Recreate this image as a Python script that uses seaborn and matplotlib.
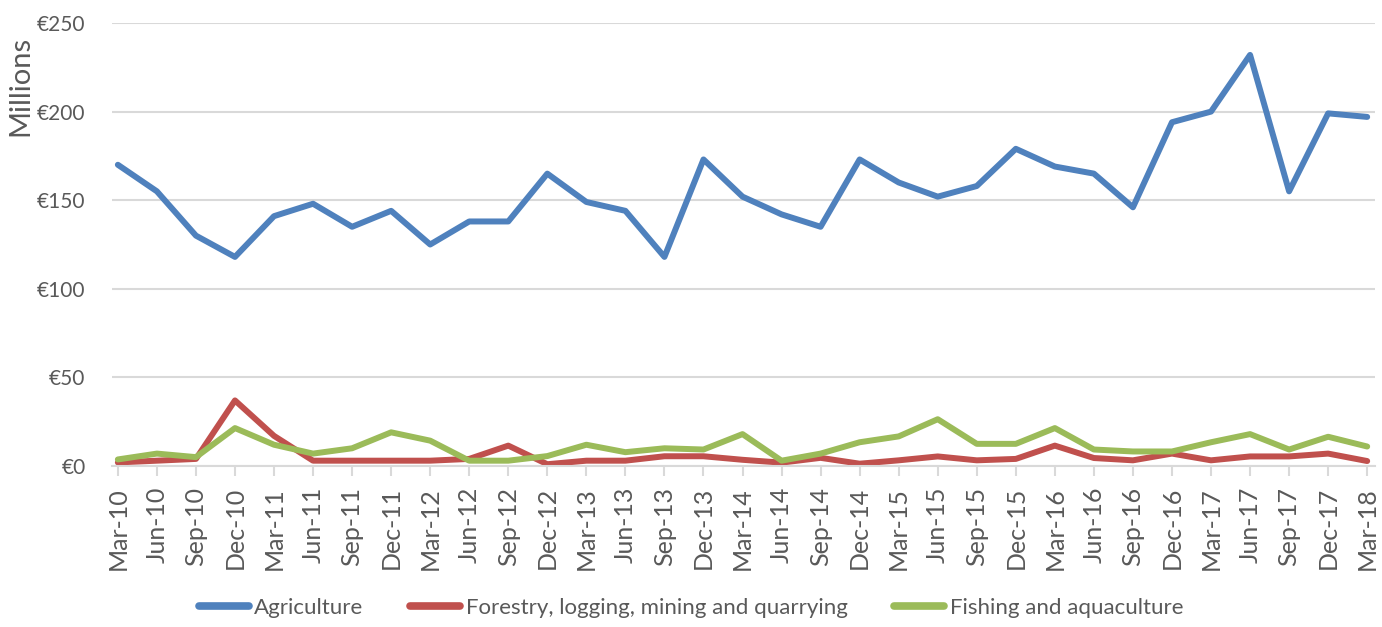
import matplotlib
matplotlib.use("Agg")
import matplotlib.pyplot as plt
import seaborn as sns
import pandas as pd
import numpy as np

quarters = ["Mar-10", "Jun-10", "Sep-10", "Dec-10", "Mar-11", "Jun-11", "Sep-11", "Dec-11",
            "Mar-12", "Jun-12", "Sep-12", "Dec-12", "Mar-13", "Jun-13", "Sep-13", "Dec-13",
            "Mar-14", "Jun-14", "Sep-14", "Dec-14", "Mar-15", "Jun-15", "Sep-15", "Dec-15",
            "Mar-16", "Jun-16", "Sep-16", "Dec-16", "Mar-17", "Jun-17", "Sep-17", "Dec-17",
            "Mar-18"]

agriculture = [170, 155, 130, 118, 141, 148, 135, 144, 125, 138, 138, 165, 149, 144, 118, 173,
               152, 142, 135, 173, 160, 152, 158, 179, 169, 165, 146, 194, 200, 232, 155, 199,
               197]
forestry = [2, 3, 4, 37, 17, 3, 3, 3, 3, 4, 11.5, 1, 3, 3, 5.5, 5.5,
            3.5, 1.9, 4.6, 1.3, 3.2, 5.4, 3.2, 4, 11.5, 4.5, 3.2, 7, 3.2, 5.4, 5.4, 7,
            2.8]
fishing = [3.7, 7, 5, 21.4, 12, 7, 10, 19, 14.3, 3, 3, 5.6, 12, 7.8, 10, 9.3,
           18, 3, 7, 13.4, 16.7, 26.4, 12.5, 12.5, 21.4, 9.3, 8.2, 8.2, 13.4, 18, 9.3, 16.5,
           11]

series_names = ["Agriculture", "Forestry, logging, mining and quarrying", "Fishing and aquaculture"]
series_colors = ["#4F81BD", "#C0504D", "#9BBB59"]
y_ticks = [0, 50, 100, 150, 200, 250]
y_tick_labels = ["€0", "€50", "€100", "€150", "€200", "€250"]

df = pd.concat([
    pd.DataFrame({"idx": np.arange(len(quarters)), "value": vals, "series": name})
    for name, vals in zip(series_names, [agriculture, forestry, fishing])
])

sns.set_theme(style="white")
plt.rcParams["font.family"] = ["Lato", "DejaVu Sans"]

fig = plt.figure(figsize=(13.82, 6.27), dpi=100)
ax = fig.add_axes([112 / 1382, 1 - 466 / 627, (1375 - 112) / 1382, (466 - 23) / 627])

sns.lineplot(data=df, x="idx", y="value", hue="series", hue_order=series_names,
             palette=series_colors, linewidth=4.3, ax=ax, legend=True)
for line in ax.lines:
    line.set_solid_capstyle("round")
    line.set_solid_joinstyle("round")

ax.set_xlim(-0.15, 32.2)
ax.set_ylim(0, 250)
ax.set_yticks(y_ticks)
ax.set_yticklabels(y_tick_labels)
ax.set_xticks(np.arange(len(quarters)))
ax.set_xticklabels(quarters, rotation=90)
ax.set_xlabel("")
ax.set_ylabel("")

ax.grid(axis="y", color="#D9D9D9", linewidth=1.5)
ax.set_axisbelow(True)
for s in ["top", "right", "left"]:
    ax.spines[s].set_visible(False)
ax.spines["bottom"].set_color("#D9D9D9")
ax.spines["bottom"].set_linewidth(1.5)

ax.tick_params(axis="y", length=0, pad=19, labelsize=15, labelcolor="#595959")
ax.tick_params(axis="x", length=7, width=1.5, color="#D9D9D9", direction="out",
               bottom=True, pad=8, labelsize=18, labelcolor="#595959")

fig.text(20 / 1382, 1 - 86 / 627, "Millions", rotation=90, ha="center", va="center",
         fontsize=21, color="#595959")

handles, labels = ax.get_legend_handles_labels()
ax.legend(handles, labels, loc="center",
          bbox_to_anchor=(0.5 - (112 + 1375 - 1382) / 2 / 1263, -(608 - 466) / 443),
          ncol=3, frameon=False, fontsize=16, handlelength=2.25, handletextpad=0.25,
          columnspacing=2.1, labelcolor="#595959")
for lh in ax.get_legend().get_lines():
    lh.set_linewidth(5.5)
    lh.set_solid_capstyle("round")

fig.savefig("out.png", dpi=100)
